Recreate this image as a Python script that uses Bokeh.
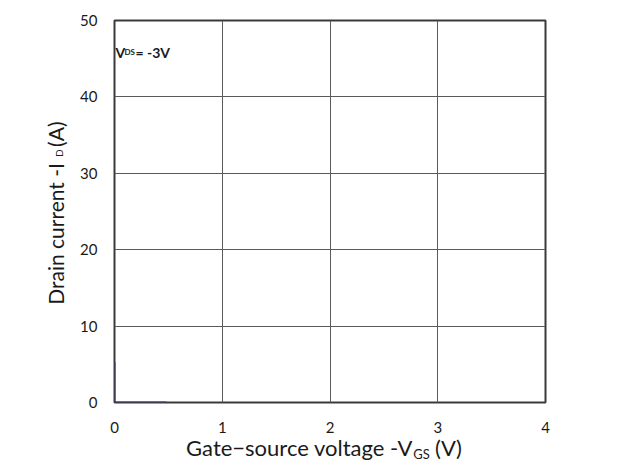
import math
from bokeh.plotting import figure
from bokeh.models import Range1d, FixedTicker, Label, LinearAxis
from bokeh.embed import file_html
from bokeh.resources import INLINE

# ---- data ----
vgs = [0.0, 0.0, 0.48]
drain_current = [5.3, 0.0, 0.0]
x_ticks = [0, 1, 2, 3, 4]
y_ticks = [0, 10, 20, 30, 40, 50]

FONT = "Lato"
TXT = "#1a1a1a"

p = figure(width=632, height=464, output_backend="svg", toolbar_location=None,
           title=None, x_range=Range1d(0, 4), y_range=Range1d(0, 50),
           min_border_left=114, min_border_right=87, min_border_top=20,
           min_border_bottom=61)

# pixel-based helper ranges for placing the axis titles (pieces)
p.extra_x_ranges = {"px": Range1d(114, 545)}
p.extra_y_ranges = {"py": Range1d(403, 20)}

p.outline_line_color = "#3a3a3a"
p.outline_line_width = 2
p.background_fill_color = "white"
p.border_fill_color = "white"

def style_axis(ax, size, standoff):
    ax.axis_line_color = None
    ax.major_tick_line_color = None
    ax.minor_tick_line_color = None
    ax.major_tick_out = 0
    ax.major_tick_in = 0
    ax.major_label_text_font = FONT
    ax.major_label_text_font_size = size
    ax.major_label_text_color = TXT
    ax.major_label_standoff = standoff

style_axis(p.xaxis[0], "15px", 19)
style_axis(p.yaxis[0], "15px", 17)
p.xaxis[0].ticker = FixedTicker(ticks=x_ticks)
p.yaxis[0].ticker = FixedTicker(ticks=y_ticks)

p.xgrid.ticker = FixedTicker(ticks=x_ticks)
p.ygrid.ticker = FixedTicker(ticks=y_ticks)
for g in (p.xgrid[0], p.ygrid[0]):
    g.grid_line_color = "#5a5a5a"
    g.grid_line_width = 1

p.line(vgs, drain_current, line_color="#4a3a6a", line_width=2)

def text_axis(side, centers, labels, size, standoff, vertical=False):
    overrides = {}
    for c, t in zip(centers, labels):
        overrides[c] = t
        overrides[str(c)] = t
    kw = {}
    if side in ("below", "above"):
        kw["x_range_name"] = "px"
    else:
        kw["y_range_name"] = "py"
    ax = LinearAxis(ticker=FixedTicker(ticks=centers),
                    major_label_overrides=overrides, **kw)
    style_axis(ax, size, standoff)
    if vertical:
        ax.major_label_orientation = "vertical"
    p.add_layout(ax, side)

# x axis title: "Gate-source voltage -V" + subscript "GS" + " (V)"
text_axis("below", [299, 448], ["Gate\u2212source voltage -V", "(V)"], "22px", -2)
text_axis("below", [421], ["GS"], "13px", -18)

# y axis title: "Drain current -I" + small "D" + " (A)"
text_axis("left", [234, 134], ["Drain current -I", "(A)"], "21px", 9, vertical=True)
text_axis("left", [153], ["D"], "10px", -25, vertical=True)

# annotation inside the plot
def px(xp):
    return (xp - 114) / (431 / 4)

def py(yp):
    return (403 - yp) / (383 / 50)

def lab(text, xp, yp, size):
    p.add_layout(Label(x=px(xp), y=py(yp), text=text, text_font=FONT,
                       text_font_size=size, text_align="left",
                       text_baseline="alphabetic", text_font_style="bold",
                       text_color=TXT))

lab("V", 115, 52, "14px")
lab("DS", 124, 52, "8px")
lab("= -3V", 135, 52, "14px")

open("out.html", "w").write(file_html(p, INLINE))
